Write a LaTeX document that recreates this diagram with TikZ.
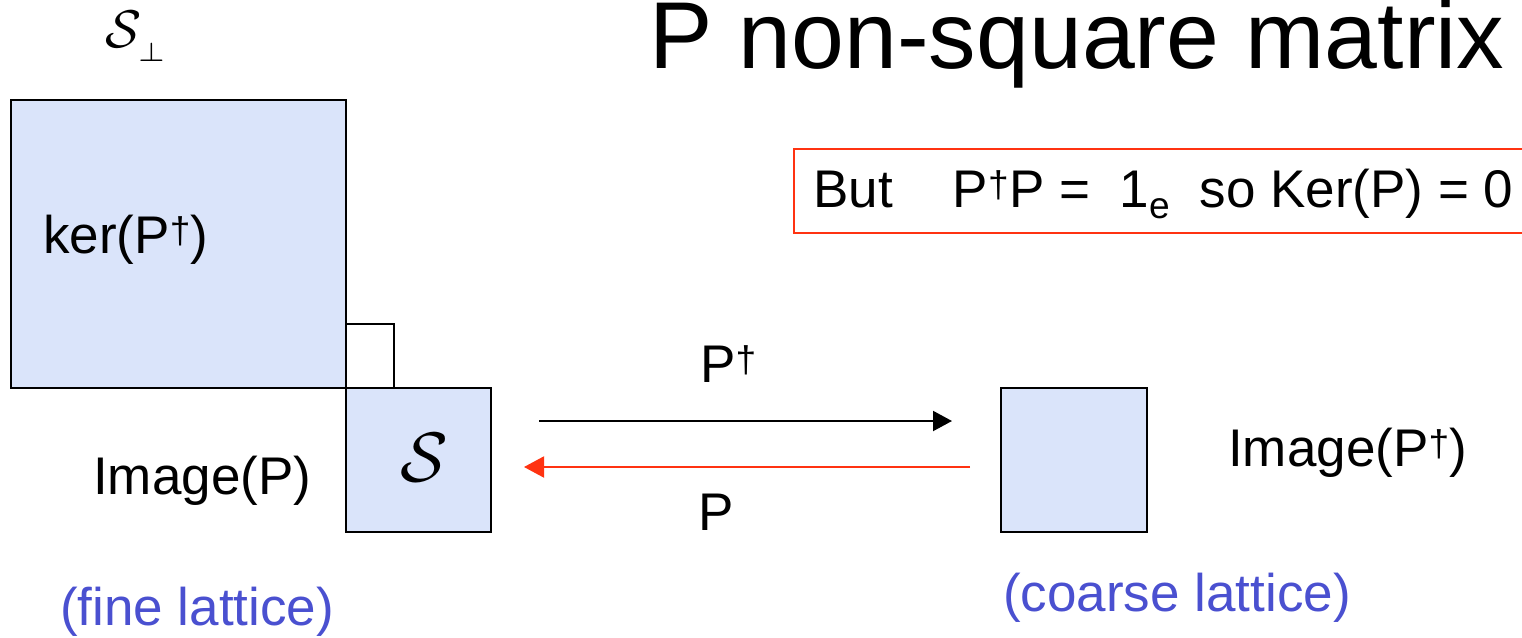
\documentclass[tikz,border=0pt]{standalone}
\usepackage{fontspec}
\setmainfont{Liberation Sans}
\usetikzlibrary{positioning,arrows.meta}
\definecolor{cellfill}{HTML}{DAE4FA}
\definecolor{adjoint}{HTML}{FF3311}
\definecolor{lattice}{HTML}{4A50D0}

\begin{document}
\begin{tikzpicture}[x=1pt,y=-1pt,
  lbl/.style={anchor=base west,inner sep=0pt,font=\fontsize{53}{60}\selectfont},
  cell/.style={draw,line width=2pt,anchor=north west,inner sep=0pt}]
\useasboundingbox (0,0) rectangle (1522,637);
\node[lbl,font=\fontsize{95}{100}\selectfont,text height=67pt] (title) at (649,68) {P non-square matrix};
\node[anchor=base west,inner sep=0pt,scale=5.3,text height=7pt] (sperp) at (104,47) {$\mathcal{S}_{\lower1.2pt\hbox{$\scriptscriptstyle\perp$}}$};
\foreach \nm/\x/\y/\w/\h in {kerbox/10/99/335/288, sbox/345/387/145/144, cbox/1000/387/146/144}
  \node[cell,fill=cellfill,minimum width=\w pt,minimum height=\h pt] (\nm) at (\x,\y) {};
\node[cell,minimum width=48pt,minimum height=64pt] (perpsq) at (345,323) {};
\node[lbl] (kerlbl) at (43,253) {ker(P\textsuperscript{†})};
\node[lbl] (imglbl) at (93,494) {Image(P)};
\node[lbl] (imgdlbl) at (1228,466) {Image(P\textsuperscript{†})};
\node[scale=7] (slbl) at (424,458) {$\mathcal{S}$};
\draw[line width=2pt,-{Triangle[length=19pt,width=20pt]}] ([xshift=47pt,yshift=39pt]sbox.east) -- ([xshift=-48pt,yshift=39pt]cbox.west);
\draw[adjoint,line width=2pt,-{Triangle[length=20pt,width=21pt]}] ([xshift=-30pt,yshift=-7pt]cbox.west) -- ([xshift=32pt,yshift=-7pt]sbox.east);
\node[lbl] (pdag) at (700,382) {P\textsuperscript{†}};
\node[lbl] (pmap) at (698,530) {P};
\node[cell,draw=adjoint,line width=1.5pt,minimum width=760pt,minimum height=84pt] (claim) at (793,148) {};
\node[lbl] (claimtxt) at (813,207) {But\hspace{60pt}P\textsuperscript{†}P = \ 1\textsubscript{e} \ so Ker(P) = 0};
\node[lbl,lattice] (fine) at (60,625) {(fine lattice)};
\node[lbl,lattice] (coarse) at (1003,611) {(coarse lattice)};
\end{tikzpicture}
\end{document}
